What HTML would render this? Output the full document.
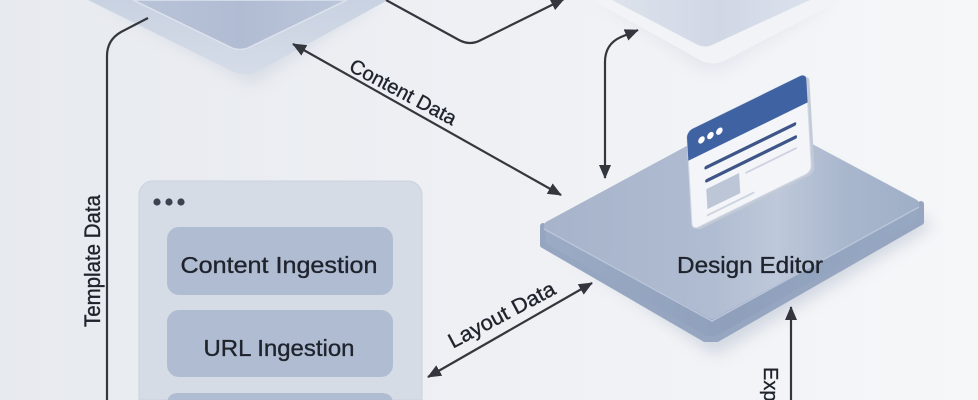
<!DOCTYPE html>
<html><head><meta charset="utf-8"><style>
html,body{margin:0;padding:0;width:978px;height:400px;overflow:hidden;background:#eef0f4}
svg{display:block}
text{font-family:"Liberation Sans",Arial,sans-serif;fill:#1e232c;stroke:#1e232c;stroke-width:0.35}
</style></head><body>
<svg width="978" height="400" viewBox="0 0 978 400" xmlns="http://www.w3.org/2000/svg" style="overflow:hidden">
<defs>
 <linearGradient id="bg" x1="0" y1="0" x2="1" y2="0">
  <stop offset="0" stop-color="#e7eaef"/>
  <stop offset="0.5" stop-color="#eef0f4"/>
  <stop offset="1" stop-color="#f6f7f9"/>
 </linearGradient>
 <linearGradient id="tlOuter" x1="0" y1="0" x2="0" y2="1">
  <stop offset="0" stop-color="#c9d2e2"/>
  <stop offset="1" stop-color="#d5dce8"/>
 </linearGradient>
 <linearGradient id="tlInner" x1="0" y1="0" x2="1" y2="0">
  <stop offset="0" stop-color="#b9c3d8"/>
  <stop offset="0.5" stop-color="#b1bcd3"/>
  <stop offset="1" stop-color="#bcc6da"/>
 </linearGradient>
 <linearGradient id="trInner" x1="0" y1="0" x2="1" y2="0">
  <stop offset="0" stop-color="#dde2eb"/>
  <stop offset="0.55" stop-color="#d0d7e5"/>
  <stop offset="1" stop-color="#dce2ec"/>
 </linearGradient>
 <linearGradient id="deTop" x1="543" y1="0" x2="920" y2="0" gradientUnits="userSpaceOnUse">
  <stop offset="0" stop-color="#a6b3ca"/>
  <stop offset="0.45" stop-color="#b0bcd1"/>
  <stop offset="0.62" stop-color="#bec8da"/>
  <stop offset="0.8" stop-color="#a9b7cd"/>
  <stop offset="1" stop-color="#9fafc7"/>
 </linearGradient>
 <linearGradient id="deSide" x1="0" y1="0" x2="1" y2="0">
  <stop offset="0" stop-color="#9babc5"/>
  <stop offset="0.5" stop-color="#8fa0bc"/>
  <stop offset="1" stop-color="#97a8c3"/>
 </linearGradient>
 <marker id="ah" viewBox="0 0 14 12" refX="13" refY="6" markerWidth="14" markerHeight="12" markerUnits="userSpaceOnUse" orient="auto-start-reverse">
   <path d="M0,0 L14,6 L0,12 Z" fill="#33363c" stroke="none"/>
 </marker>
 <filter id="blur8" x="-20%" y="-20%" width="140%" height="140%"><feGaussianBlur stdDeviation="8"/></filter>
 <clipPath id="frame"><rect x="0" y="0" width="978" height="400"/></clipPath>
</defs>

<g clip-path="url(#frame)">
<rect width="978" height="400" fill="url(#bg)"/>

<!-- top-left slab -->
<path d="M100,0 L380,0 L252,84 Z" fill="#c3cad7" opacity="0.5" filter="url(#blur8)"/>
<path d="M88,0 L388,0 L262,69 Q245,79 228,69 Z" fill="url(#tlOuter)"/>
<path d="M133,0 L347,0 L252,46 Q240,53 228,46 Z" fill="url(#tlInner)" stroke="#dde3ed" stroke-width="1.5"/>

<!-- top-right slab (faded) -->
<path d="M600,0 L835,0 L725,68 Q712,75 699,68 Z" fill="#d9dee8" opacity="0.6" filter="url(#blur8)"/>
<path d="M592,0 L842,0 L726,60 Q713,67 700,60 Z" fill="#f1f3f7"/>
<path d="M612,0 L810,0 L714,44 Q705,49 696,44 Z" fill="url(#trInner)"/>

<!-- design editor slab -->
<path d="M560,245 L760,135 L935,225 L715,355 Z" fill="#b4bdcd" opacity="0.55" filter="url(#blur8)"/>
<polygon points="543,226 543,245 705,339 717,339 921,222 921,204 712,318" fill="url(#deSide)" stroke="#96a6c1" stroke-width="6" stroke-linejoin="round"/>
<polygon points="549,226 751,117 914,204 712,314" fill="url(#deTop)" stroke="url(#deTop)" stroke-width="10" stroke-linejoin="round"/>
<polyline points="544,229 712,321 919,207" fill="none" stroke="#bac5d8" stroke-width="1.4" stroke-linejoin="round"/>

<!-- browser card -->
<g transform="matrix(0.994,-0.487,0.057,1.003,686.7,131.7)">
  <rect x="3" y="3" width="120" height="98" rx="6" fill="#c3cad7"/>
  <rect x="0" y="0" width="120" height="98" rx="6" fill="#f3f5f9" stroke="#d3d9e3" stroke-width="1"/>
  <path d="M6,0 H114 A6,6 0 0 1 120,6 V29 H0 V6 A6,6 0 0 1 6,0 Z" fill="#3f62a2"/>
  <circle cx="14" cy="15" r="3.3" fill="#ffffff"/>
  <circle cx="23" cy="15" r="3.3" fill="#ffffff"/>
  <circle cx="32" cy="15" r="3.3" fill="#ffffff"/>
  <line x1="17" y1="44" x2="106" y2="44" stroke="#3e5587" stroke-width="3.5" stroke-linecap="round"/>
  <line x1="17" y1="57" x2="106" y2="57" stroke="#3e5587" stroke-width="3.5" stroke-linecap="round"/>
  <rect x="16" y="65" width="33" height="20" fill="#bcc6d6"/>
  <line x1="56" y1="68" x2="106" y2="68" stroke="#cdd4df" stroke-width="2" stroke-linecap="round"/>
  <line x1="16" y1="91" x2="62" y2="91" stroke="#cdd4df" stroke-width="2" stroke-linecap="round"/>
</g>
<text x="750" y="273" font-size="23" text-anchor="middle" textLength="146" lengthAdjust="spacingAndGlyphs">Design Editor</text>

<!-- left panel -->
<path d="M139,400 V195 A14,14 0 0 1 153,181 H408 A14,14 0 0 1 422,195 V400 Z" fill="#d6dce6" stroke="#cbd2dd" stroke-width="1"/>
<circle cx="157" cy="202" r="3.6" fill="#3c4250"/>
<circle cx="169" cy="202" r="3.6" fill="#3c4250"/>
<circle cx="181" cy="202" r="3.6" fill="#3c4250"/>
<rect x="167" y="227" width="226" height="68" rx="12" fill="#b0bcd1"/>
<rect x="167" y="310" width="226" height="67" rx="12" fill="#b0bcd1"/>
<path d="M167,400 V405 Q167,393 179,393 H381 Q393,393 393,405 V400 Z" fill="#b0bcd1"/>
<path d="M167,400 V404 Q167,393 179,393 H381 Q393,393 393,404 V400 Z" fill="#b0bcd1"/>
<text x="279" y="273" font-size="23.5" text-anchor="middle" textLength="197" lengthAdjust="spacingAndGlyphs">Content Ingestion</text>
<text x="279" y="356" font-size="23.5" text-anchor="middle" textLength="151" lengthAdjust="spacingAndGlyphs">URL Ingestion</text>

<!-- connectors -->
<g fill="none" stroke="#34373d" stroke-width="2.2">
  <path d="M148,18 L121,32 Q107,40 107,56 L107,400"/>
  <path d="M386,0 L459,40 Q470,46 481,40 L564,-1" marker-end="url(#ah)"/>
  <path d="M293,44 L561,195" marker-start="url(#ah)" marker-end="url(#ah)"/>
  <path d="M605,178 L605,62 Q605,44 621,37 L638,30" marker-start="url(#ah)" marker-end="url(#ah)"/>
  <path d="M428,377 L592,283" marker-start="url(#ah)" marker-end="url(#ah)"/>
  <path d="M791,400 L791,307" marker-end="url(#ah)"/>
</g>

<!-- connector labels -->
<text transform="translate(100,261) rotate(-90)" font-size="22" text-anchor="middle" textLength="132" lengthAdjust="spacingAndGlyphs">Template Data</text>
<text transform="translate(400,98) rotate(28)" font-size="20" text-anchor="middle" textLength="118" lengthAdjust="spacingAndGlyphs">Content Data</text>
<text transform="translate(505,321) rotate(-28)" font-size="21" text-anchor="middle" textLength="118" lengthAdjust="spacingAndGlyphs">Layout Data</text>
<text transform="translate(764,367) rotate(90)" font-size="20">Exp</text>
</g>
</svg>
</body></html>
